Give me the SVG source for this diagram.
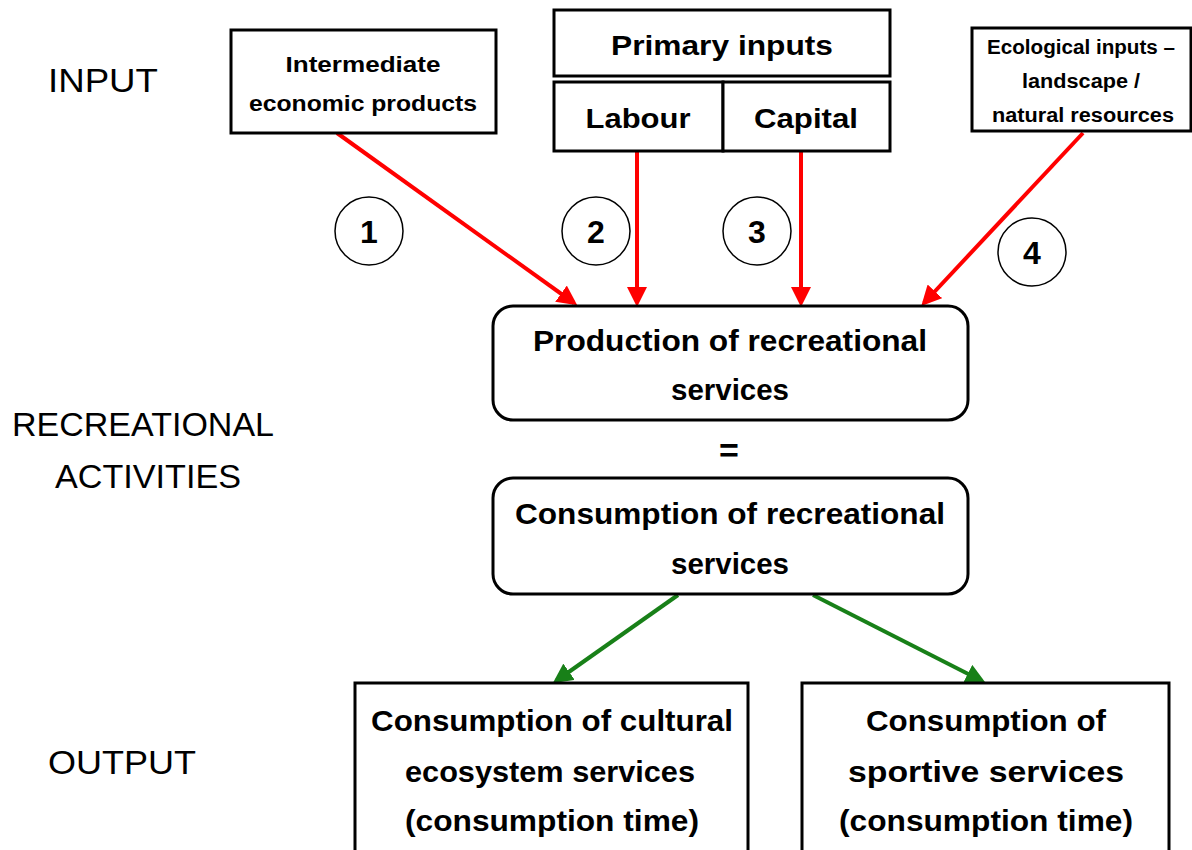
<svg xmlns="http://www.w3.org/2000/svg" width="1192" height="850" viewBox="0 0 1192 850">
<style>
.box{fill:#fff;stroke:#000;stroke-width:3}
.b{font-family:"Liberation Sans",Arial,sans-serif;font-weight:bold;fill:#000;text-anchor:middle}
.n{font-family:"Liberation Sans",Arial,sans-serif;fill:#000;text-anchor:middle}
.red{stroke:#ff0000;stroke-width:4;fill:none;marker-end:url(#ar)}
.grn{stroke:#188018;stroke-width:4;fill:none;marker-end:url(#ag)}
.circ{fill:#fff;stroke:#000;stroke-width:1.5}
</style>
<defs>
<marker id="ar" markerWidth="5" markerHeight="5" refX="4" refY="2.5" orient="auto" markerUnits="strokeWidth"><path d="M0,0 L5,2.5 L0,5 Z" fill="#ff0000"/></marker>
<marker id="ag" markerWidth="5" markerHeight="5" refX="4" refY="2.5" orient="auto" markerUnits="strokeWidth"><path d="M0,0 L5,2.5 L0,5 Z" fill="#188018"/></marker>
</defs>
<rect width="1192" height="850" fill="#fff"/>
<g id="labels">
<text class="n" x="103" y="92" font-size="34" textLength="110" lengthAdjust="spacingAndGlyphs">INPUT</text>
<text class="n" x="143" y="436" font-size="34" textLength="262" lengthAdjust="spacingAndGlyphs">RECREATIONAL</text>
<text class="n" x="148" y="488" font-size="34" textLength="186" lengthAdjust="spacingAndGlyphs">ACTIVITIES</text>
<text class="n" x="122" y="774" font-size="34" textLength="148" lengthAdjust="spacingAndGlyphs">OUTPUT</text>
</g>
<g id="connectors">
<line class="red" x1="337" y1="133" x2="574" y2="303"/>
<line class="red" x1="637" y1="152" x2="637" y2="303"/>
<line class="red" x1="801" y1="152" x2="801" y2="303"/>
<line class="red" x1="1083" y1="133" x2="924" y2="303"/>
<line class="grn" x1="678" y1="595" x2="556" y2="681"/>
<line class="grn" x1="813" y1="595" x2="982" y2="681"/>
</g>
<g id="n-intermediate">
<rect class="box" x="231" y="30" width="265" height="103"/>
<text class="b" x="363" y="72" font-size="22" textLength="155" lengthAdjust="spacingAndGlyphs">Intermediate</text>
<text class="b" x="363" y="111" font-size="22" textLength="228" lengthAdjust="spacingAndGlyphs">economic products</text>
</g>
<g id="n-primary">
<rect class="box" x="554" y="10" width="336" height="66"/>
<text class="b" x="722" y="55" font-size="28" textLength="222" lengthAdjust="spacingAndGlyphs">Primary inputs</text>
</g>
<g id="n-labour">
<rect class="box" x="554" y="82" width="169" height="69"/>
<text class="b" x="638" y="128" font-size="28" textLength="105" lengthAdjust="spacingAndGlyphs">Labour</text>
</g>
<g id="n-capital">
<rect class="box" x="723" y="82" width="167" height="69"/>
<text class="b" x="806" y="128" font-size="28" textLength="104" lengthAdjust="spacingAndGlyphs">Capital</text>
</g>
<g id="n-ecological">
<rect class="box" x="972" y="28" width="219" height="103"/>
<text class="b" x="1081" y="54" font-size="20" textLength="188" lengthAdjust="spacingAndGlyphs">Ecological inputs –</text>
<text class="b" x="1081" y="88" font-size="20" textLength="118" lengthAdjust="spacingAndGlyphs">landscape /</text>
<text class="b" x="1083" y="122" font-size="20" textLength="182" lengthAdjust="spacingAndGlyphs">natural resources</text>
</g>
<g id="n-c1"><circle class="circ" cx="369" cy="231" r="34"/><text class="b" x="369" y="243" font-size="32">1</text></g>
<g id="n-c2"><circle class="circ" cx="596" cy="231" r="34"/><text class="b" x="596" y="243" font-size="32">2</text></g>
<g id="n-c3"><circle class="circ" cx="757" cy="231" r="34"/><text class="b" x="757" y="243" font-size="32">3</text></g>
<g id="n-c4"><circle class="circ" cx="1032" cy="252" r="34"/><text class="b" x="1032" y="264" font-size="32">4</text></g>
<g id="n-production">
<rect class="box" x="493" y="306" width="475" height="114" rx="20"/>
<text class="b" x="730" y="351" font-size="30" textLength="394" lengthAdjust="spacingAndGlyphs">Production of recreational</text>
<text class="b" x="730" y="400" font-size="30" textLength="118" lengthAdjust="spacingAndGlyphs">services</text>
</g>
<text class="b" x="729" y="462" font-size="34">=</text>
<g id="n-consumption">
<rect class="box" x="493" y="478" width="475" height="116" rx="20"/>
<text class="b" x="730" y="524" font-size="30" textLength="430" lengthAdjust="spacingAndGlyphs">Consumption of recreational</text>
<text class="b" x="730" y="574" font-size="30" textLength="118" lengthAdjust="spacingAndGlyphs">services</text>
</g>
<g id="n-cultural">
<rect class="box" x="355" y="683" width="393" height="180"/>
<text class="b" x="552" y="731" font-size="30" textLength="362" lengthAdjust="spacingAndGlyphs">Consumption of cultural</text>
<text class="b" x="550" y="782" font-size="30" textLength="290" lengthAdjust="spacingAndGlyphs">ecosystem services</text>
<text class="b" x="552" y="831" font-size="30" textLength="294" lengthAdjust="spacingAndGlyphs">(consumption time)</text>
</g>
<g id="n-sportive">
<rect class="box" x="802" y="683" width="367" height="180"/>
<text class="b" x="986" y="731" font-size="30" textLength="240" lengthAdjust="spacingAndGlyphs">Consumption of</text>
<text class="b" x="986" y="782" font-size="30" textLength="276" lengthAdjust="spacingAndGlyphs">sportive services</text>
<text class="b" x="986" y="831" font-size="30" textLength="294" lengthAdjust="spacingAndGlyphs">(consumption time)</text>
</g>
</svg>
